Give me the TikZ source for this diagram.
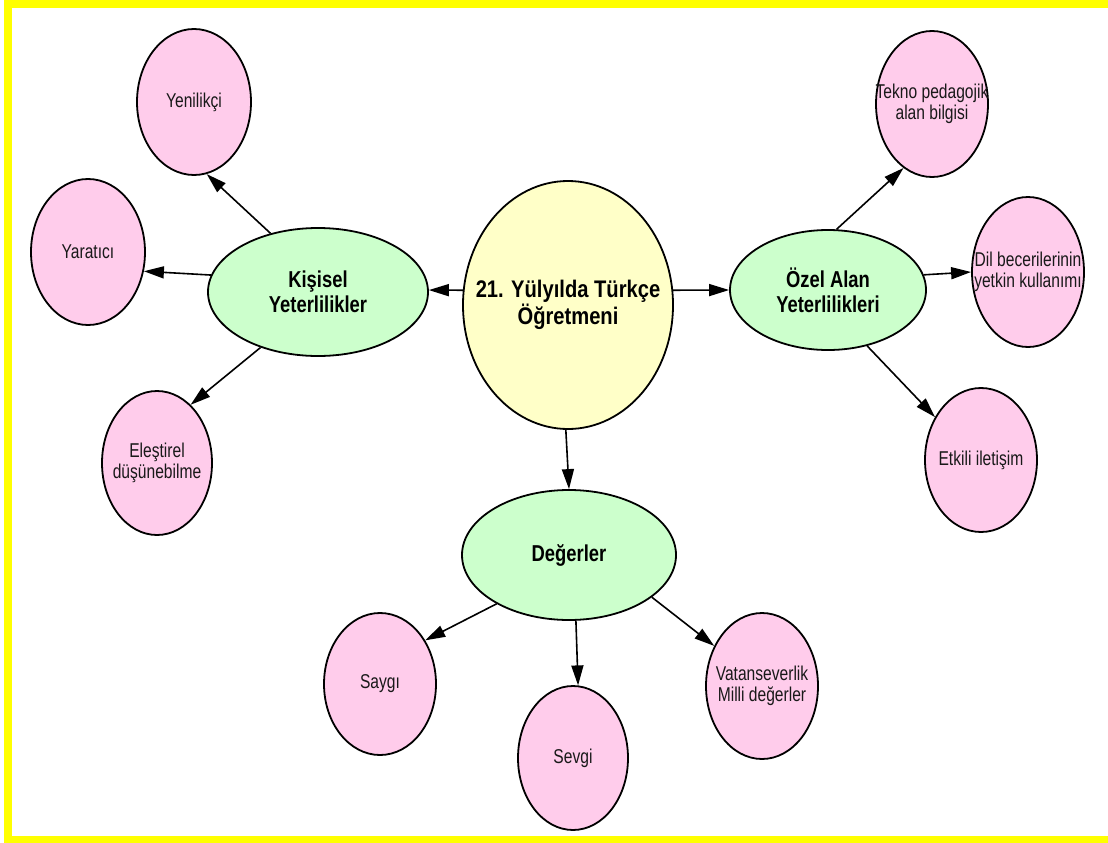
\documentclass[tikz,border=0pt]{standalone}
\usepackage{fontspec}
\usetikzlibrary{shapes.geometric,arrows.meta}
\newfontfamily\labelfont[FakeStretch=0.78]{Liberation Sans}
\newfontfamily\headfont[FakeStretch=0.8]{Liberation Sans}
\newfontfamily\titlefont[FakeStretch=0.84]{Liberation Sans}
\definecolor{frameyellow}{HTML}{FFFF00}
\definecolor{hubfill}{HTML}{FFFFC8}
\definecolor{groupfill}{HTML}{CCFFCC}
\definecolor{leaffill}{HTML}{FFCCEB}
\tikzset{
  bub/.style={ellipse, draw=black, line width=1.8pt, inner sep=0pt},
  headtext/.style={align=center, inner sep=0pt, font=\headfont\bfseries\fontsize{23}{25}\selectfont},
  titletext/.style={align=center, inner sep=0pt, font=\titlefont\bfseries\fontsize{24}{25}\selectfont},
  leaftext/.style={align=center, inner sep=0pt, text=black!90, font=\labelfont\fontsize{20}{21}\selectfont},
  hub/.style={bub, fill=hubfill},
  grp/.style={bub, fill=groupfill},
  leaf/.style={bub, fill=leaffill},
  link/.style={line width=1.6pt, -{Triangle[length=20pt,width=12pt]}}
}
\begin{document}
\begin{tikzpicture}[x=1pt,y=-1pt]
  \useasboundingbox (0,0) rectangle (1108,843);
  % yellow frame
  \fill[frameyellow] (4,0) rectangle (1108,843);
  \fill[white] (12,8) rectangle (1108,836);

  % hub and groups
  \node[hub, minimum width=210pt, minimum height=248pt,
        label={[titletext]center:21. Yülyılda Türkçe\\Öğretmeni}] (cen) at (568,305) {};
  \node[grp, minimum width=220pt, minimum height=128pt,
        label={[headtext]center:Kişisel\\Yeterlilikler}] (kis) at (318,292) {};
  \node[grp, minimum width=196pt, minimum height=120pt,
        label={[headtext]center:Özel Alan\\Yeterlilikleri}] (oz) at (828,290) {};
  \node[grp, minimum width=214pt, minimum height=130pt,
        label={[headtext]center:Değerler}] (deg) at (569,555) {};

  % leaves
  \node[leaf, minimum width=114pt, minimum height=146pt,
        label={[leaftext]center:Yenilikçi}] (yen) at (194,102) {};
  \node[leaf, minimum width=114pt, minimum height=146pt,
        label={[leaftext]center:Yaratıcı}] (yar) at (88,252) {};
  \node[leaf, minimum width=110pt, minimum height=144pt,
        label={[leaftext]center:Eleştirel\\düşünebilme}] (ele) at (157,463) {};
  \node[leaf, minimum width=112pt, minimum height=146pt,
        label={[leaftext]center:Tekno pedagojik\\alan bilgisi}] (tek) at (932,104) {};
  \node[leaf, minimum width=112pt, minimum height=150pt,
        label={[leaftext]center:Dil becerilerinin\\yetkin kullanımı}] (dil) at (1028,272) {};
  \node[leaf, minimum width=112pt, minimum height=144pt,
        label={[leaftext]center:Etkili iletişim}] (etk) at (981,460) {};
  \node[leaf, minimum width=112pt, minimum height=142pt,
        label={[leaftext]center:Saygı}] (say) at (380,684) {};
  \node[leaf, minimum width=110pt, minimum height=144pt,
        label={[leaftext]center:Sevgi}] (sev) at (573,758) {};
  \node[leaf, minimum width=112pt, minimum height=146pt,
        label={[leaftext]center:Vatanseverlik\\Milli değerler}] (vat) at (762,686) {};

  % connectors
  \draw[link] (cen.172) -- (kis.1);
  \draw[link] (cen.8) -- (oz.180);
  \draw[link] (cen.-91) -- (deg.90);
  \draw[link] (kis.129) -- (yen.-80);
  \draw[link] (kis.171) -- (yar.-19);
  \draw[link] (kis.-136) -- (ele.60);
  \draw[link] (oz.82) -- (tek.-114);
  \draw[link] (oz.9) -- (dil.180);
  \draw[link] (oz.-55) -- (etk.137);
  \draw[link] (deg.-146) -- (say.44);
  \draw[link] (deg.-84) -- (sev.86);
  \draw[link] (deg.-27) -- (vat.140);
\end{tikzpicture}
\end{document}
